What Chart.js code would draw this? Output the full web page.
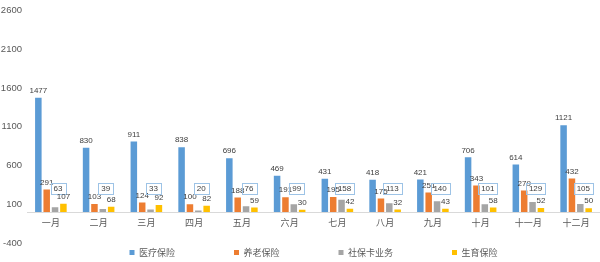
<!DOCTYPE html>
<html>
<head>
<meta charset="utf-8">
<script src="https://cdn.jsdelivr.net/npm/chart.js@4/dist/chart.umd.min.js"></script>
<style>
  html, body { margin: 0; padding: 0; background: #fff; }
</style>
</head>
<body>
<canvas id="chart" width="600" height="262"></canvas>
<script>
const months = ['一月', '二月', '三月', '四月', '五月', '六月', '七月', '八月', '九月', '十月', '十一月', '十二月'];
const seriesNames = ['医疗保险', '养老保险', '社保卡业务', '生育保险'];
const medical = [1477, 830, 911, 838, 696, 469, 431, 418, 421, 706, 614, 1121];
const pension = [291, 103, 124, 100, 188, 191, 195, 175, 251, 343, 279, 432];
const cardService = [63, 39, 33, 20, 76, 99, 158, 113, 140, 101, 129, 105];
const maternity = [107, 68, 92, 82, 59, 30, 42, 32, 43, 58, 52, 50];
const yTicks = [-400, 100, 600, 1100, 1600, 2100, 2600];

const colors = ['#5B9BD5', '#ED7D31', '#A5A5A5', '#FFC000'];
const numFont = '"Liberation Sans Narrow", "Liberation Sans", sans-serif';
const cjkFont = '"Noto Sans CJK SC", sans-serif';

// labels above bars; the card-service series gets boxed callouts
const valueLabels = {
    id: 'valueLabels',
    afterDatasetsDraw(chart) {
        const ctx = chart.ctx;
        const yScale = chart.scales.y;
        ctx.save();
        ctx.font = '8px ' + numFont;
        ctx.textAlign = 'center';
        ctx.textBaseline = 'middle';
        chart.data.datasets.forEach((ds, i) => {
            chart.getDatasetMeta(i).data.forEach((bar, j) => {
                const text = String(ds.data[j]);
                ctx.fillStyle = '#404040';
                if (i === 2) {
                    const cx = bar.x + 3;
                    const cy = yScale.getPixelForValue(300);
                    const w = Math.round(ctx.measureText(text).width + 6);
                    const h = 11;
                    ctx.strokeStyle = '#9DC3E6';
                    ctx.lineWidth = 1;
                    ctx.strokeRect(Math.round(cx - w / 2) + 0.5, Math.round(cy - h / 2) + 0.5, w, h);
                    ctx.fillText(text, cx, cy + 0.5);
                } else {
                    ctx.fillText(text, bar.x, bar.y - 7);
                }
            });
        });
        ctx.restore();
    }
};

const seriesData = [medical, pension, cardService, maternity];

new Chart(document.getElementById('chart'), {
    type: 'bar',
    data: {
        labels: months,
        datasets: seriesNames.map((name, i) => ({
            label: name,
            data: seriesData[i],
            backgroundColor: colors[i],
            categoryPercentage: 0.7,
            barPercentage: 0.78
        }))
    },
    options: {
        responsive: false,
        animation: false,
        layout: { padding: { left: 0, top: 0, right: 0, bottom: 0 } },
        plugins: {
            tooltip: { enabled: false },
            legend: {
                position: 'bottom',
                fullSize: false,
                maxHeight: 19,
                labels: {
                    boxWidth: 5,
                    boxHeight: 5,
                    padding: 5,
                    color: '#595959',
                    font: { size: 9, family: cjkFont },
                    generateLabels(chart) {
                        const items = Chart.defaults.plugins.legend.labels.generateLabels(chart);
                        items.forEach((item, i) => {
                            item.lineWidth = 0;
                            if (i < items.length - 1) item.text = item.text + '\u3000\u3000\u3000\u3000\u3000\u3000';
                        });
                        return items;
                    }
                }
            }
        },
        scales: {
            x: {
                position: { y: 0 },
                grid: { display: false, drawTicks: false },
                border: { display: true, color: '#D9D9D9' },
                ticks: { padding: 5, color: '#595959', font: { size: 9, family: cjkFont } }
            },
            y: {
                min: -400,
                max: 2600,
                afterBuildTicks(scale) {
                    scale.ticks = yTicks.map(v => ({ value: v }));
                },
                afterFit(scale) {
                    scale.width = 27;
                },
                grid: { display: false, drawTicks: false },
                border: { display: false },
                ticks: {
                    padding: 5,
                    color: '#595959',
                    font: { size: 9.5, family: numFont },
                    callback: v => String(v)
                }
            }
        }
    },
    plugins: [valueLabels]
});
</script>
</body>
</html>
